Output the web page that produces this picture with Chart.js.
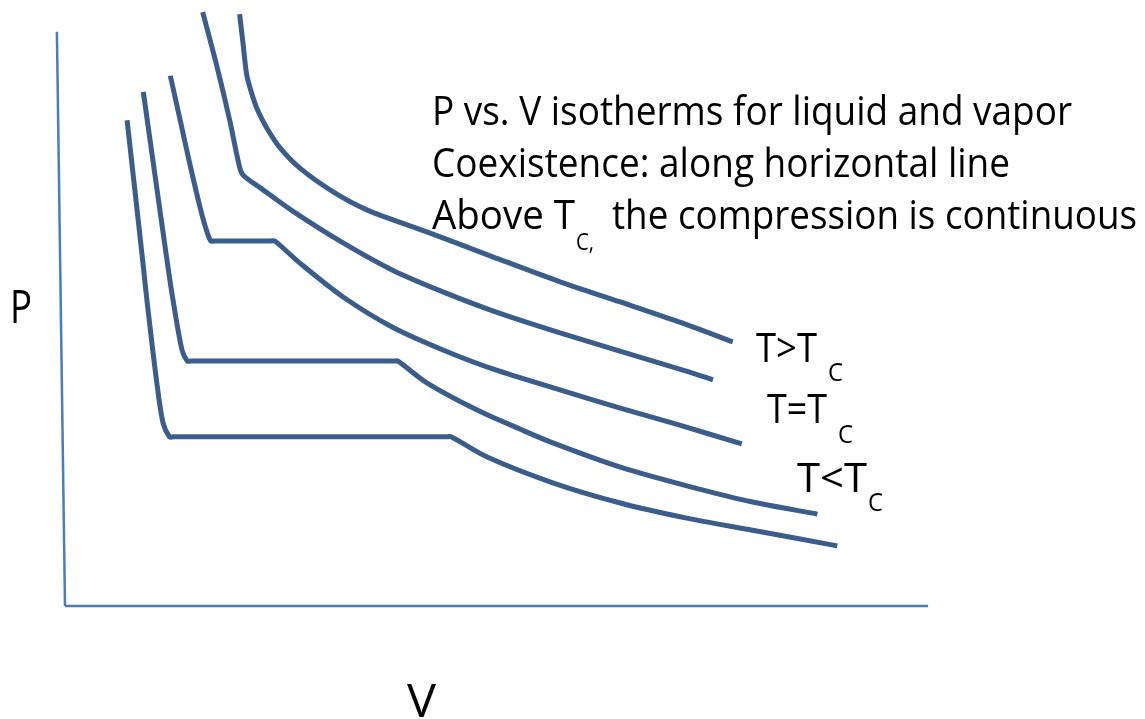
<!DOCTYPE html>
<html>
<head>
<meta charset="utf-8">
<title>P vs. V isotherms</title>
<script src="https://cdn.jsdelivr.net/npm/chart.js@4.4.1/dist/chart.umd.min.js"></script>
<style>
  html, body { margin: 0; padding: 0; background: #fff; }
  #pv { display: block; }
</style>
</head>
<body>
<canvas id="pv" width="1145" height="719"></canvas>
<script>
// isotherms, hottest first (V, P in arbitrary units)
var aboveV = [1.94, 1.98, 2.02, 2.08, 2.14, 2.24, 2.39, 2.61, 2.98, 3.36, 4.02, 4.76, 5.50, 6.17, 6.83, 7.42];
var aboveP = [11.72, 11.11, 10.51, 10.12, 9.82, 9.47, 9.07, 8.67, 8.20, 7.84, 7.41, 6.91, 6.42, 6.02, 5.62, 5.23];

var critV = [1.53, 1.69, 1.83, 1.94, 1.98, 2.17, 2.53, 3.09, 3.64, 4.20, 4.76, 5.50, 6.83, 7.20];
var critP = [11.76, 10.67, 9.62, 8.69, 8.53, 8.28, 7.82, 7.19, 6.65, 6.22, 5.84, 5.41, 4.69, 4.48];

// below Tc: liquid branch, flat coexistence line, vapour branch
var below1V = [1.17, 1.28, 1.39, 1.50, 1.57, 1.62, 1.67, 2.29, 2.33, 2.61, 3.09, 3.64, 4.20, 4.76, 5.50, 6.17, 6.83, 7.52];
var below1P = [10.50, 9.62, 8.73, 7.90, 7.45, 7.23, 7.23, 7.23, 7.23, 6.79, 6.12, 5.52, 5.07, 4.69, 4.28, 3.92, 3.58, 3.21];

var below2V = [0.87, 1.00, 1.13, 1.20, 1.30, 1.36, 1.40, 3.66, 3.70, 4.02, 4.58, 5.06, 5.42, 6.17, 6.91, 7.64, 8.36];
var below2P = [10.18, 8.53, 6.89, 6.06, 5.07, 4.85, 4.85, 4.85, 4.85, 4.42, 3.88, 3.50, 3.23, 2.75, 2.38, 2.06, 1.82];

var below3V = [0.69, 0.86, 0.91, 1.02, 1.09, 1.16, 1.20, 4.24, 4.29, 4.69, 5.42, 6.17, 6.91, 7.64, 8.58];
var below3P = [9.62, 6.89, 6.06, 4.42, 3.62, 3.35, 3.35, 3.35, 3.35, 2.95, 2.44, 2.04, 1.74, 1.50, 1.19];

// hand-drawn axes
var axisYV = [-0.09, 0];
var axisYP = [11.37, 0];
var axisXV = [0, 9.59];
var axisXP = [0, 0];

var curveColor = '#3a5d8b';
var axisColor = '#4a7ebb';

function pts(xs, ys) {
    return xs.map(function (x, i) { return { x: x, y: ys[i] }; });
}

function curve(xs, ys) {
    return {
        data: pts(xs, ys),
        showLine: true,
        borderColor: curveColor,
        borderWidth: 5,
        pointRadius: 0,
        tension: 0.3,
        clip: false
    };
}

function axis(xs, ys) {
    return {
        data: pts(xs, ys),
        showLine: true,
        borderColor: axisColor,
        borderWidth: 2.5,
        pointRadius: 0,
        tension: 0,
        clip: false
    };
}

// draws a string squeezed to a given width
function putText(ctx, str, x, y, size, width) {
    ctx.font = size + 'px "Open Sans"';
    var w = ctx.measureText(str).width;
    ctx.save();
    ctx.translate(x, y);
    ctx.scale(width / w, 1);
    ctx.fillText(str, 0, 0);
    ctx.restore();
}

var labels = {
    id: 'labels',
    afterDraw: function (chart) {
        var ctx = chart.ctx;
        ctx.save();
        ctx.fillStyle = '#000';
        ctx.textBaseline = 'alphabetic';

        putText(ctx, 'P vs. V isotherms for liquid and vapor', 432, 125, 40, 640);
        putText(ctx, 'Coexistence: along horizontal line', 432, 177, 40, 578);
        putText(ctx, 'Above T', 432, 229, 40, 143);
        putText(ctx, 'C,', 576, 250, 24, 18);
        putText(ctx, 'the compression is continuous', 612, 229, 40, 525);

        putText(ctx, 'T>T', 756, 362, 41, 61);
        putText(ctx, 'C', 828, 381, 25, 15);
        putText(ctx, 'T=T', 767, 423, 41, 60);
        putText(ctx, 'C', 838, 443, 25, 15);
        putText(ctx, 'T<T', 797, 492, 41, 70);
        putText(ctx, 'C', 868, 511, 25, 15);

        putText(ctx, 'P', 10, 323, 45, 22);
        putText(ctx, 'V', 407, 717, 46, 29);
        ctx.restore();
    }
};

new Chart(document.getElementById('pv'), {
    type: 'scatter',
    data: {
        datasets: [
            axis(axisYV, axisYP),
            axis(axisXV, axisXP),
            curve(aboveV, aboveP),
            curve(critV, critP),
            curve(below1V, below1P),
            curve(below2V, below2P),
            curve(below3V, below3P)
        ]
    },
    options: {
        responsive: false,
        animation: false,
        layout: { padding: { left: 65, right: 0, top: 0, bottom: 113 } },
        scales: {
            x: { type: 'linear', min: 0, max: 12, display: false },
            y: { type: 'linear', min: 0, max: 12, display: false }
        },
        plugins: {
            legend: { display: false },
            tooltip: { enabled: false }
        }
    },
    plugins: [labels]
});
</script>
</body>
</html>
